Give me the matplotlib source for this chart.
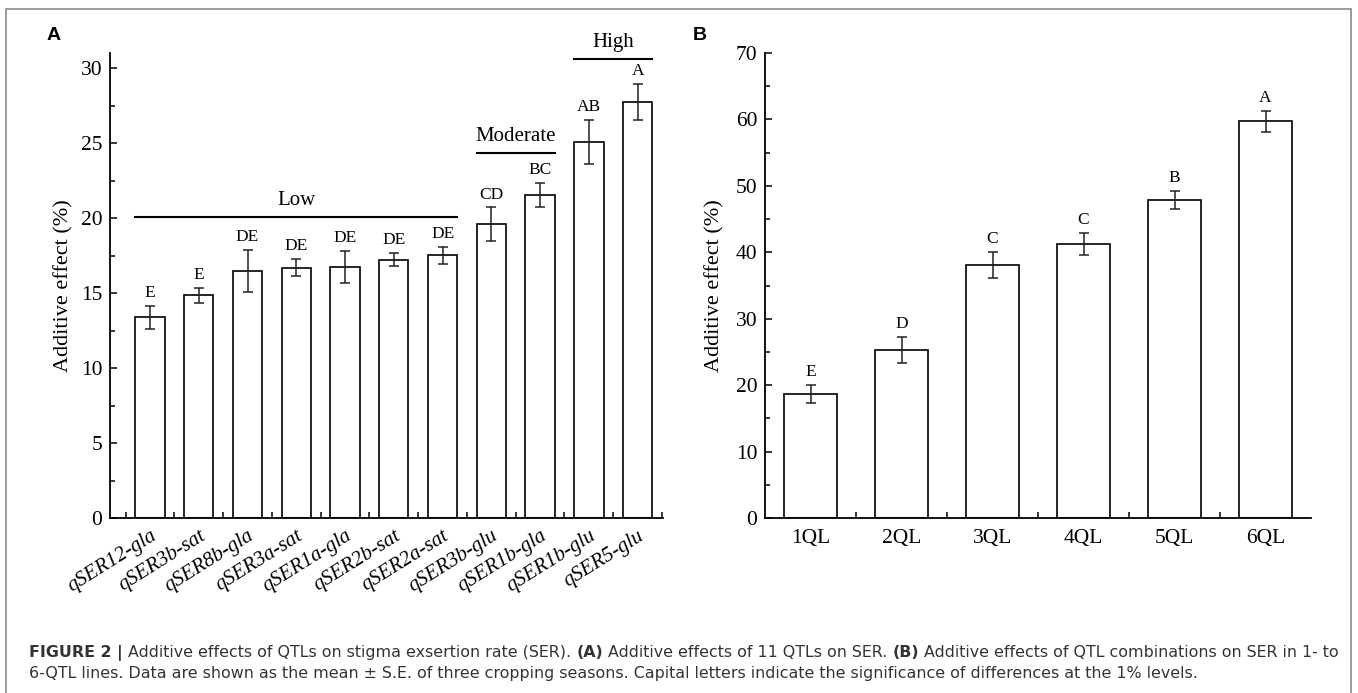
import numpy as np
import matplotlib.pyplot as plt
from matplotlib.patches import Rectangle

######### Data
# Panel A : additive effects of 11 QTLs
qtl_names = ["qSER12-gla", "qSER3b-sat", "qSER8b-gla", "qSER3a-sat", "qSER1a-gla",
             "qSER2b-sat", "qSER2a-sat", "qSER3b-glu", "qSER1b-gla", "qSER1b-glu", "qSER5-glu"]
qtl_effect = [13.37, 14.84, 16.50, 16.68, 16.75, 17.23, 17.52, 19.60, 21.54, 25.06, 27.72]
qtl_se = [0.78, 0.52, 1.40, 0.57, 1.08, 0.43, 0.58, 1.10, 0.80, 1.47, 1.20]
qtl_letters = ["E", "E", "DE", "DE", "DE", "DE", "DE", "CD", "BC", "AB", "A"]
# groups : name, first bar, last bar (1-based)
group_names = ["Low", "Moderate", "High"]
group_first = [1, 8, 10]
group_last = [7, 9, 11]

# Panel B : QTL combinations
combo_names = ["1QL", "2QL", "3QL", "4QL", "5QL", "6QL"]
combo_effect = [18.67, 25.26, 38.08, 41.25, 47.85, 59.70]
combo_se = [1.40, 2.00, 2.00, 1.60, 1.40, 1.60]
combo_letters = ["E", "D", "C", "C", "B", "A"]

caption_1 = [("FIGURE 2 | ", "bold"),
             ("Additive effects of QTLs on stigma exsertion rate (SER). ", "normal"),
             ("(A)", "bold"),
             (" Additive effects of 11 QTLs on SER. ", "normal"),
             ("(B)", "bold"),
             (" Additive effects of QTL combinations on SER in 1- to", "normal")]
caption_2 = [("6-QTL lines. Data are shown as the mean \u00b1 S.E. of three cropping seasons. "
              "Capital letters indicate the significance of differences at the 1% levels.", "normal")]

######### Style
plt.rcParams["font.family"] = ["Liberation Serif", "DejaVu Serif"]
W, H = 1358, 693
fig = plt.figure(figsize=(W / 100, H / 100), dpi=100)


def px_box(l, t, r, b):
    return [l / W, 1 - b / H, (r - l) / W, (b - t) / H]


def style_axes(ax, xpad):
    for s in ["top", "right"]:
        ax.spines[s].set_visible(False)
    for s in ["left", "bottom"]:
        ax.spines[s].set_linewidth(1.3)
    ax.tick_params(axis="both", which="both", direction="in", width=1.1)
    ax.tick_params(axis="y", which="major", length=5, labelsize=15.5, pad=5.5)
    ax.tick_params(axis="y", which="minor", length=3.5)
    ax.tick_params(axis="x", which="both", length=4, pad=xpad)


def bars_with_letters(ax, x, vals, errs, letters, width, fs):
    ax.bar(x, vals, width=width, color="white", edgecolor="black", linewidth=1.2, zorder=2)
    ax.errorbar(x, vals, yerr=errs, fmt="none", ecolor="#222222", elinewidth=1.1,
                capsize=3.6, capthick=1.1, zorder=3)
    for xi, v, e, lab in zip(x, vals, errs, letters):
        ax.annotate(lab, (xi, v + e), xytext=(0, 3.5), textcoords="offset points",
                    ha="center", va="bottom", fontsize=fs)


##### Panel A
axA = fig.add_axes(px_box(110, 53, 663, 518))
xa = np.arange(1, len(qtl_names) + 1)
bars_with_letters(axA, xa, qtl_effect, qtl_se, qtl_letters, 0.6, 12.5)
axA.set_xlim(0.18, 11.52)
axA.set_ylim(0, 31)
axA.set_yticks(np.arange(0, 31, 5))
axA.set_yticks(np.arange(2.5, 31, 5), minor=True)
axA.set_xticks(xa)
axA.set_xticks(np.arange(0.5, 11.6, 1.0), minor=True)
axA.set_xticklabels(qtl_names, rotation=32, ha="right", rotation_mode="anchor",
                    style="italic", fontsize=15)
style_axes(axA, 6)
axA.set_ylabel("Additive effect (%)", fontsize=16, labelpad=5)

group_y = [20.07, 24.35, 30.6]
for name, g0, g1, gy in zip(group_names, group_first, group_last, group_y):
    axA.plot([g0 - 0.3, g1 + 0.3], [gy, gy], color="black", lw=1.5, clip_on=False)
    axA.text((g0 + g1) / 2, gy + 0.45, name, ha="center", va="bottom", fontsize=15,
             clip_on=False)

##### Panel B
axB = fig.add_axes(px_box(765, 53, 1311, 518))
xb = np.arange(1, len(combo_names) + 1)
bars_with_letters(axB, xb, combo_effect, combo_se, combo_letters, 0.59, 12.5)
axB.set_xlim(0.5, 6.5)
axB.set_ylim(0, 70)
axB.set_yticks(np.arange(0, 71, 10))
axB.set_yticks(np.arange(5, 70, 10), minor=True)
axB.set_xticks(xb)
axB.set_xticks(np.arange(1.5, 6.0, 1.0), minor=True)
axB.set_xticklabels(combo_names, fontsize=15.5)
style_axes(axB, 8)
axB.set_ylabel("Additive effect (%)", fontsize=16, labelpad=8)

##### Panel letters, frame and caption
fig.text(47 / W, 1 - 36 / H, "A", family="Liberation Sans", weight="bold", fontsize=14,
         va="center")
fig.text(693 / W, 1 - 36 / H, "B", family="Liberation Sans", weight="bold", fontsize=14,
         va="center")
fig.add_artist(Rectangle((6 / W, -0.01), (1351 - 6) / W, 1 - 9 / H + 0.01,
                         transform=fig.transFigure, fill=False, edgecolor="#8a8a8a", lw=1.2))

renderer = fig.canvas.get_renderer()


def draw_line(pieces, x0, y0, fs):
    x = x0
    for txt, wt in pieces:
        t = fig.text(x / W, 1 - y0 / H, txt, family=["DejaVu Sans"],
                     weight=wt, fontsize=fs, va="baseline", ha="left", color="#333333")
        bb = t.get_window_extent(renderer=renderer)
        x += bb.width


draw_line(caption_1, 29, 657, 11.4)
draw_line(caption_2, 29, 678, 11.4)

plt.savefig("out.png", dpi=100)
